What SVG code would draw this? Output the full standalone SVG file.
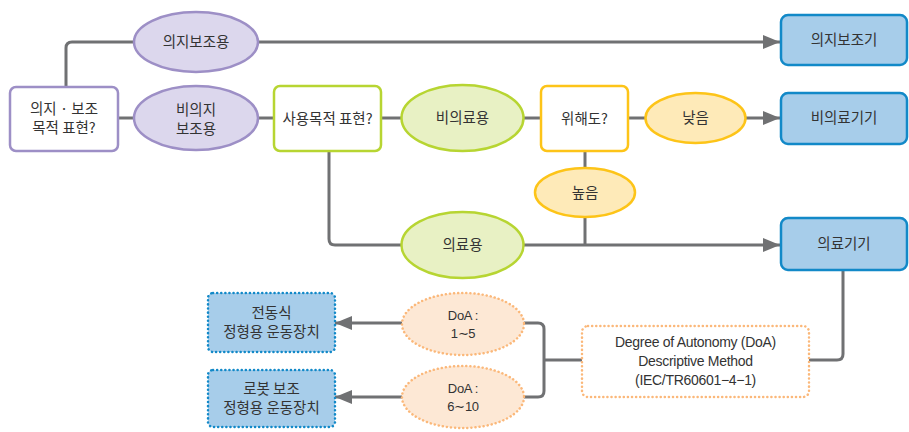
<svg xmlns="http://www.w3.org/2000/svg" width="909" height="432" viewBox="0 0 909 432">
<defs>
<marker id="arr" markerUnits="userSpaceOnUse" markerWidth="18" markerHeight="16" refX="17" refY="7" orient="auto">
<path d="M0,0 L17,7 L0,14 Z" fill="#707173"/>
</marker>
<style>
text{font-family:"Noto Sans CJK KR","Noto Sans",sans-serif;font-size:14.5px;fill:#333;text-anchor:middle}
.en{font-family:"Liberation Sans","Noto Sans",sans-serif;font-size:13px;letter-spacing:-0.3px}
.en2{font-family:"Liberation Sans","Noto Sans",sans-serif;font-size:14px;letter-spacing:-0.3px}
.c{fill:none;stroke:#707173;stroke-width:3}
.pu{fill:#dcd7ed;stroke:#9d8fc6;stroke-width:2.5}
.puw{fill:#fff;stroke:#9d8fc6;stroke-width:2.5}
.gr{fill:#e8f1c4;stroke:#b7d532;stroke-width:2.5}
.grw{fill:#fff;stroke:#b7d532;stroke-width:2.5}
.ye{fill:#feeab8;stroke:#fdc418;stroke-width:2.5}
.yew{fill:#fff;stroke:#fdc418;stroke-width:2.5}
.bl{fill:#a7cdea;stroke:#1289c8;stroke-width:2.5}
.bld{fill:#a7cdea;stroke:#1289c8;stroke-width:2.5;stroke-dasharray:0.1 4;stroke-linecap:round}
.or{fill:#fde8d5;stroke:#fbb87a;stroke-width:2.5;stroke-dasharray:0.1 4;stroke-linecap:round}
.orw{fill:#fff;stroke:#fbb87a;stroke-width:2.5;stroke-dasharray:0.1 4;stroke-linecap:round}
</style>
</defs>
<g id="connectors">
<path class="c" d="M66,87 V48 Q66,42 72,42 H134"/>
<path class="c" d="M258,42 H780" marker-end="url(#arr)"/>
<path class="c" d="M118,118 H134"/>
<path class="c" d="M258,118 H274"/>
<path class="c" d="M381,118 H401"/>
<path class="c" d="M524,118 H541"/>
<path class="c" d="M628,118 H645"/>
<path class="c" d="M746,118 H780" marker-end="url(#arr)"/>
<path class="c" d="M585,151 V168"/>
<path class="c" d="M585,217 V245"/>
<path class="c" d="M329,151 V239 Q329,245 335,245 H401"/>
<path class="c" d="M524,245 H780" marker-end="url(#arr)"/>
<path class="c" d="M843,270 V354 Q843,360 837,360 H809"/>
<path class="c" d="M582,360 H544"/>
<path class="c" d="M524,323 H538 Q544,323 544,329 V391 Q544,397 538,397 H524"/>
<path class="c" d="M402,323 H335" marker-end="url(#arr)"/>
<path class="c" d="M402,397 H335" marker-end="url(#arr)"/>
</g>
<g id="n-start">
<rect class="puw" x="10" y="87" width="108" height="64" rx="6"/>
<text x="64" y="114">의지 · 보조</text>
<text x="64" y="133">목적 표현?</text>
</g>
<g id="n-uiji">
<ellipse class="pu" cx="196" cy="42" rx="62" ry="30"/>
<text x="196" y="47">의지보조용</text>
</g>
<g id="n-biuiji">
<ellipse class="pu" cx="196" cy="118" rx="62" ry="32"/>
<text x="196" y="115">비의지</text>
<text x="196" y="134">보조용</text>
</g>
<g id="n-purpose">
<rect class="grw" x="274" y="86" width="107" height="65" rx="6"/>
<text x="327.5" y="124">사용목적 표현?</text>
</g>
<g id="n-nonmed">
<ellipse class="gr" cx="462.5" cy="118" rx="61" ry="33"/>
<text x="462.5" y="123">비의료용</text>
</g>
<g id="n-risk">
<rect class="yew" x="541" y="86" width="87" height="65" rx="6"/>
<text x="584.5" y="124">위해도?</text>
</g>
<g id="n-low">
<ellipse class="ye" cx="695.5" cy="118" rx="50" ry="25"/>
<text x="695.5" y="123">낮음</text>
</g>
<g id="n-high">
<ellipse class="ye" cx="585" cy="192.5" rx="50" ry="24.5"/>
<text x="585" y="197.5">높음</text>
</g>
<g id="n-med">
<ellipse class="gr" cx="462.5" cy="245" rx="61" ry="33"/>
<text x="462.5" y="250">의료용</text>
</g>
<g id="n-orthotic">
<rect class="bl" x="781" y="15" width="126" height="50" rx="7"/>
<text x="844" y="45">의지보조기</text>
</g>
<g id="n-nonmeddev">
<rect class="bl" x="781" y="93" width="126" height="51" rx="7"/>
<text x="844" y="123">비의료기기</text>
</g>
<g id="n-meddev">
<rect class="bl" x="781" y="218" width="126" height="52" rx="7"/>
<text x="844" y="249">의료기기</text>
</g>
<g id="n-doa-method">
<rect class="orw" x="582" y="326" width="227" height="71" rx="6"/>
<text class="en2" x="695.5" y="347">Degree of Autonomy (DoA)</text>
<text class="en2" x="695.5" y="366">Descriptive Method</text>
<text class="en2" x="695.5" y="385">(IEC/TR60601−4−1)</text>
</g>
<g id="n-doa1">
<ellipse class="or" cx="463" cy="324" rx="61" ry="31"/>
<text class="en" x="463" y="320">DoA :</text>
<text class="en" x="463" y="338">1∼5</text>
</g>
<g id="n-doa2">
<ellipse class="or" cx="463" cy="397" rx="61" ry="31"/>
<text class="en" x="463" y="393">DoA :</text>
<text class="en" x="463" y="411">6∼10</text>
</g>
<g id="n-cpm1">
<rect class="bld" x="208" y="293" width="127" height="59" rx="5"/>
<text x="271.5" y="318">전동식</text>
<text x="271.5" y="337">정형용 운동장치</text>
</g>
<g id="n-cpm2">
<rect class="bld" x="208" y="370" width="127" height="57" rx="5"/>
<text x="271.5" y="394">로봇 보조</text>
<text x="271.5" y="413">정형용 운동장치</text>
</g>
</svg>
